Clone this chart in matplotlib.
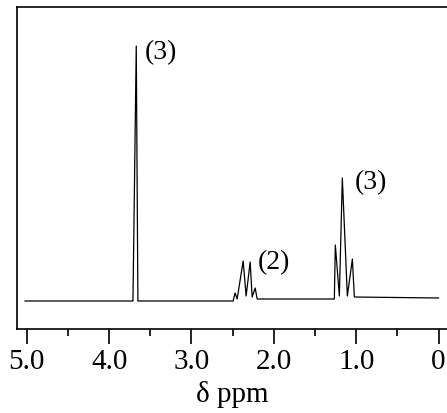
import matplotlib
matplotlib.use("Agg")
import matplotlib.pyplot as plt
from matplotlib.ticker import MultipleLocator

plt.rcParams['font.family'] = ['Liberation Serif', 'DejaVu Serif']
plt.rcParams['mathtext.fontset'] = 'stix'

# Spectrum vertices (chemical shift in ppm, intensity in arbitrary units)
ppm = [5.02, 3.71, 3.67, 3.65, 2.494, 2.470, 2.445, 2.372, 2.336, 2.287,
       2.263, 2.226, 2.202, 1.265, 1.253, 1.204, 1.168, 1.107, 1.046,
       1.022, 0.0]
intensity = [28, 28, 283, 28, 28, 36, 30, 68, 33, 67,
             32, 41, 30, 30, 84, 33, 151, 33, 70,
             32, 31]

labels = ["(3)", "(2)", "(3)"]
label_ppm = [3.57, 2.20, 1.02]
label_int = [277, 67, 147]

xticks = [5.0, 4.0, 3.0, 2.0, 1.0, 0.0]
xticklabels = ["5.0", "4.0", "3.0", "2.0", "1.0", "0"]

fig = plt.figure(figsize=(4.47, 4.14), dpi=100)
ax = fig.add_axes([17/447, 1 - 330/414, 1 - 17/447, 322/414])

ax.plot(ppm, intensity, color='black', linewidth=0.9)
for t, x, y in zip(labels, label_ppm, label_int):
    ax.text(x, y, t, fontsize=20, ha='left', va='center')

ax.set_xlim(5.118, -0.103)
ax.set_ylim(0, 322)
ax.set_xticks(xticks)
ax.set_xticklabels(xticklabels, fontsize=21)
ax.xaxis.set_minor_locator(MultipleLocator(0.5))
ax.tick_params(axis='x', which='major', direction='out', length=11, width=1.2, pad=3)
ax.tick_params(axis='x', which='minor', direction='out', length=5, width=1.2)
ax.set_yticks([])
ax.spines['right'].set_visible(False)
for s in ['left', 'top', 'bottom']:
    ax.spines[s].set_linewidth(1.2)
ax.set_xlabel("δ ppm", fontsize=21, labelpad=4)

fig.savefig("out.png", dpi=100)
